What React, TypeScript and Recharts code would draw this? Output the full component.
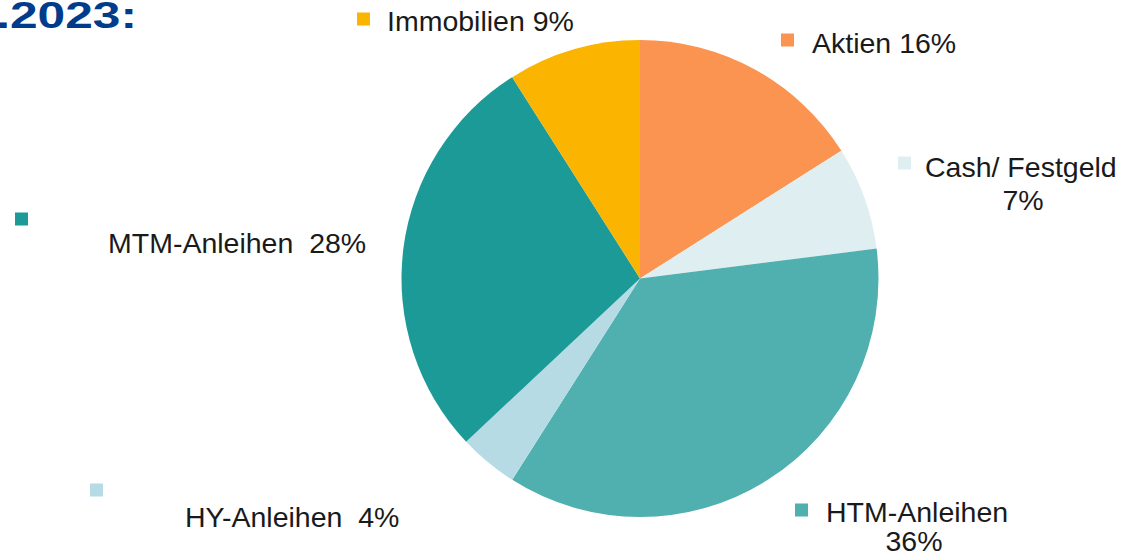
import { Pie, PieChart, Cell } from "recharts";

const categories = ["Aktien", "Cash/ Festgeld", "HTM-Anleihen", "HY-Anleihen", "MTM-Anleihen", "Immobilien"];
const shares = [16, 7, 36, 4, 28, 9];
const colors = ["#FB9450", "#DFEFF1", "#4FB0AF", "#B6DBE5", "#1C9A98", "#FBB400"];

// label placement relative to pie center: marker top-left, text start/baseline, optional 2nd line center
const labelLayout = [
  { mx: 141, my: -245, tx: 172, ty: -226, split: false },
  { mx: 258, my: -122, tx: 285, ty: -102, split: true, x2: 383, y2: -69 },
  { mx: 155, my: 225, tx: 186, ty: 243, split: true, x2: 274, y2: 272.5 },
  { mx: -550, my: 205, tx: -455, ty: 248, split: false, gap: true },
  { mx: -625, my: -66, tx: -532, ty: -26, split: false, gap: true },
  { mx: -283, my: -266, tx: -253, ty: -248, split: false },
];

const data = categories.map((name, i) => ({ name, value: shares[i] }));

const font = "Liberation Sans, Arial, sans-serif";

const renderLabel = (props: any) => {
  const { cx, cy, index, name, value } = props;
  const l = labelLayout[index];
  const pct = `${value}%`;
  const sep = l.gap ? "\u00A0 " : " ";
  return (
    <g key={`lbl-${index}`}>
      <rect x={cx + l.mx} y={cy + l.my} width={13} height={13} fill={colors[index]} />
      {l.split ? (
        <>
          <text x={cx + l.tx} y={cy + l.ty} fill="#1a1a1a" fontSize={28.5} fontFamily={font}>
            {name}
          </text>
          <text x={cx + l.x2} y={cy + l.y2} textAnchor="middle" fill="#1a1a1a" fontSize={28.5} fontFamily={font}>
            {pct}
          </text>
        </>
      ) : (
        <text x={cx + l.tx} y={cy + l.ty} fill="#1a1a1a" fontSize={28.5} fontFamily={font} style={{ whiteSpace: "pre" }}>
          {name + sep + pct}
        </text>
      )}
    </g>
  );
};

export default function App() {
  return (
    <div style={{ position: "fixed", left: 0, top: 0, width: 1127, height: 556, background: "#fff" }}>
      <PieChart width={1127} height={556} margin={{ top: 0, right: 0, bottom: 0, left: 0 }}>
        <text
          transform="translate(137,28) scale(1.38,1)"
          x={0}
          y={0}
          textAnchor="end"
          fill="#003C8C"
          fontSize={36}
          fontWeight="bold"
          fontFamily={font}
        >
          31.12.2023:
        </text>
        <Pie
          data={data}
          dataKey="value"
          nameKey="name"
          cx={640}
          cy={278.5}
          outerRadius={238.5}
          startAngle={90}
          endAngle={-270}
          stroke="none"
          label={renderLabel}
          labelLine={false}
          isAnimationActive={false}
        >
          {data.map((d, i) => (
            <Cell key={d.name} fill={colors[i]} />
          ))}
        </Pie>
      </PieChart>
    </div>
  );
}
